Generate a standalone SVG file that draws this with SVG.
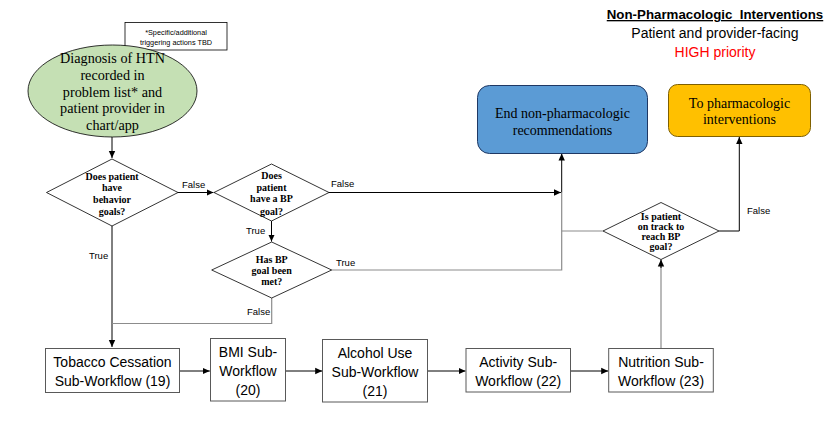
<svg xmlns="http://www.w3.org/2000/svg" width="829" height="427" viewBox="0 0 829 427">
<defs>
<marker id="ah" markerWidth="8" markerHeight="8" refX="7" refY="4" orient="auto" markerUnits="userSpaceOnUse">
<path d="M0,0.8 L7,4 L0,7.2 Z" fill="#000"/>
</marker>
<style>
.ser{font-family:"Liberation Serif","Times New Roman",serif;fill:#000}
.dq{font-family:"Liberation Serif","Times New Roman",serif;font-weight:bold;font-size:10px;fill:#000;text-anchor:middle}
.sans{font-family:"Liberation Sans",Arial,sans-serif;fill:#000}
.box{fill:#fff;stroke:#595959;stroke-width:1}
.dia{fill:#fff;stroke:#000;stroke-width:0.8}
.bt{font-family:"Liberation Sans",Arial,sans-serif;font-size:14px;fill:#000;text-anchor:middle}
.lbl{font-family:"Liberation Sans",Arial,sans-serif;font-size:9.5px;fill:#000}
.c{fill:none;stroke:#000;stroke-width:1}
.g{fill:none;stroke:#8c8c8c;stroke-width:1.2}
</style>
</defs>
<rect width="829" height="427" fill="#fff"/>

<g id="header" class="sans" text-anchor="middle">
<text x="715" y="19" font-size="13.3" font-weight="bold" text-decoration="underline">Non-Pharmacologic_Interventions</text>
<text x="715" y="38" font-size="14">Patient and provider-facing</text>
<text x="715" y="57" font-size="14" style="fill:#ff0000">HIGH priority</text>
</g>

<g id="connectors">
<path class="c" d="M112,137 V158" marker-end="url(#ah)"/>
<path class="c" d="M178,192.5 H213.5" marker-end="url(#ah)"/>
<path class="c" d="M112,226 V347" marker-end="url(#ah)"/>
<path class="g" d="M271.7,298 V323.5 H112"/>
<path class="c" d="M271.5,221 V241.5" marker-end="url(#ah)"/>
<path class="c" d="M329,192.5 H561" marker-end="url(#ah)"/>
<path class="g" d="M331.7,270 H561.7 V192.5"/>
<path class="c" d="M561.7,192.5 V153.5" marker-end="url(#ah)"/>
<path class="g" d="M603,231 H561.7"/>
<path class="g" d="M661,348 V266"/>
<path class="c" d="M661,268 V259.5" marker-end="url(#ah)"/>
<path class="c" d="M719,231 H739.3 V137" marker-end="url(#ah)"/>
<path class="c" d="M179.5,371 H209.8" marker-end="url(#ah)"/>
<path class="c" d="M285.5,371 H322.2" marker-end="url(#ah)"/>
<path class="c" d="M428,371 H465.5" marker-end="url(#ah)"/>
<path class="c" d="M570.5,371 H608.2" marker-end="url(#ah)"/>
<text class="lbl" x="182" y="188">False</text>
<text class="lbl" x="89" y="259">True</text>
<text class="lbl" x="246" y="234">True</text>
<text class="lbl" x="247" y="315">False</text>
<text class="lbl" x="331" y="187">False</text>
<text class="lbl" x="336" y="266">True</text>
<text class="lbl" x="747" y="214">False</text>
</g>

<g id="note">
<rect x="125" y="22.5" width="102" height="27.5" fill="#fff" stroke="#000" stroke-width="0.8"/>
<text class="sans" x="176" y="35" font-size="7.3" text-anchor="middle">*Specific/additional</text>
<text class="sans" x="176" y="45" font-size="7.3" text-anchor="middle">triggering actions TBD</text>
</g>

<g id="start">
<ellipse cx="112.5" cy="91" rx="84.5" ry="46" fill="#c5e0b4" stroke="#000" stroke-width="0.8"/>
<g class="ser" font-size="14.2" text-anchor="middle">
<text x="112.5" y="63">Diagnosis of HTN</text>
<text x="112.5" y="79.5">recorded in</text>
<text x="112.5" y="96.5">problem list* and</text>
<text x="112.5" y="113">patient provider in</text>
<text x="112.5" y="129.5">chart/app</text>
</g>
</g>

<g id="d1">
<polygon class="dia" points="112,159 178,192.5 112,226 46.5,192.5"/>
<text class="dq" x="112" y="179.5">Does patient</text>
<text class="dq" x="112" y="191">have</text>
<text class="dq" x="112" y="202.5">behavior</text>
<text class="dq" x="112" y="214.5">goals?</text>
</g>

<g id="d2">
<polygon class="dia" points="271.5,164 329,192.5 271.5,221 214,192.5"/>
<text class="dq" x="271.5" y="178.5">Does</text>
<text class="dq" x="271.5" y="191">patient</text>
<text class="dq" x="271.5" y="202">have a BP</text>
<text class="dq" x="271.5" y="214.5">goal?</text>
</g>

<g id="d3">
<polygon class="dia" points="271.7,242 331.7,270 271.7,298 211.7,270"/>
<text class="dq" x="271.7" y="262.5">Has BP</text>
<text class="dq" x="271.7" y="274">goal been</text>
<text class="dq" x="271.7" y="285">met?</text>
</g>

<g id="d4">
<polygon class="dia" points="661,202.5 719,231 661,259.5 603,231"/>
<text class="dq" x="661" y="219.5" font-size="8.5">Is patient</text>
<text class="dq" x="661" y="229.5" font-size="8.5">on track to</text>
<text class="dq" x="661" y="240" font-size="8.5">reach BP</text>
<text class="dq" x="661" y="250" font-size="8.5">goal?</text>
</g>

<g id="end">
<rect x="477.5" y="85.5" width="170" height="68" rx="12" fill="#5b9bd5" stroke="#1f3864" stroke-width="1"/>
<text class="ser" x="562.5" y="118" font-size="14" text-anchor="middle">End non-pharmacologic</text>
<text class="ser" x="562.5" y="135" font-size="14" text-anchor="middle">recommendations</text>
</g>

<g id="pharm">
<rect x="668.5" y="84.5" width="142" height="52" rx="9" fill="#ffc000" stroke="#7f6000" stroke-width="1"/>
<text class="ser" x="739.5" y="108" font-size="14" text-anchor="middle">To pharmacologic</text>
<text class="ser" x="739.5" y="124" font-size="14" text-anchor="middle">interventions</text>
</g>

<g id="tobacco">
<rect class="box" x="45.5" y="348.5" width="134" height="44"/>
<text class="bt" x="112.5" y="366.5">Tobacco Cessation</text>
<text class="bt" x="112.5" y="385.5">Sub-Workflow (19)</text>
</g>

<g id="bmi">
<rect class="box" x="210.5" y="338.5" width="75" height="62.5"/>
<text class="bt" x="248" y="357">BMI Sub-</text>
<text class="bt" x="248" y="375.5">Workflow</text>
<text class="bt" x="248" y="395">(20)</text>
</g>

<g id="alcohol">
<rect class="box" x="322.5" y="339.5" width="105" height="62.5"/>
<text class="bt" x="375" y="357.5">Alcohol Use</text>
<text class="bt" x="375" y="376.5">Sub-Workflow</text>
<text class="bt" x="375" y="395.5">(21)</text>
</g>

<g id="activity">
<rect class="box" x="466" y="348.5" width="104.5" height="43.5"/>
<text class="bt" x="518.2" y="366.5">Activity Sub-</text>
<text class="bt" x="518.2" y="385.5">Workflow (22)</text>
</g>

<g id="nutrition">
<rect class="box" x="608.7" y="348.5" width="104.6" height="43.5"/>
<text class="bt" x="661" y="366.5">Nutrition Sub-</text>
<text class="bt" x="661" y="385.5">Workflow (23)</text>
</g>
</svg>
